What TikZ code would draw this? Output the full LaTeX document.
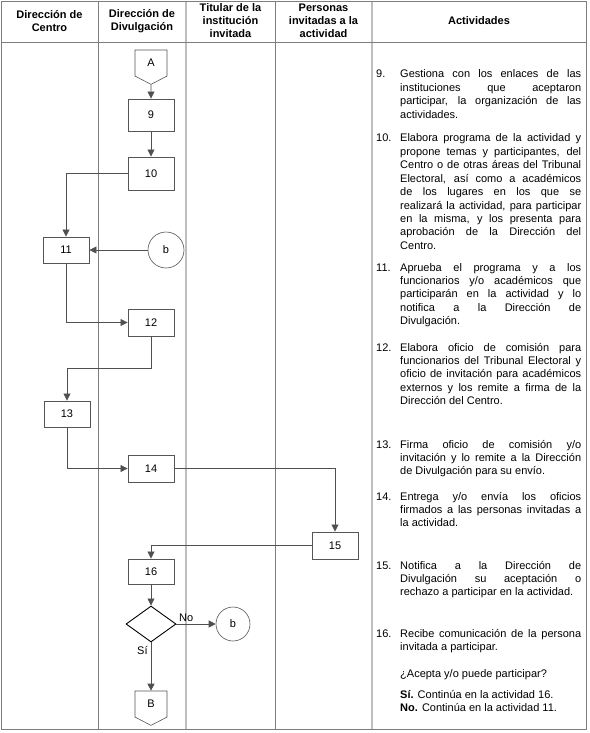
\documentclass[tikz,border=0pt]{standalone}
\usepackage{fontspec}
\setmainfont{Liberation Sans}
\usetikzlibrary{arrows.meta, positioning, shapes.geometric, shapes.symbols}
\definecolor{gridgray}{RGB}{125,125,125}
\definecolor{softgray}{RGB}{190,190,190}
\definecolor{boxline}{RGB}{85,85,85}
\definecolor{flowline}{RGB}{80,80,80}
\hyphenpenalty=10000
\exhyphenpenalty=10000
\tikzset{
  basetext/.style={font=\fontsize{11}{13.4}\selectfont},
  headnode/.style={align=center,inner sep=0pt,font=\fontsize{11}{13}\selectfont\bfseries},
  stepnode/.style={rectangle,draw=boxline,line width=0.9pt,minimum width=46pt,minimum height=27pt,inner sep=0pt,basetext},
  connnode/.style={circle,draw=boxline,line width=0.6pt,minimum size=36pt,inner sep=0pt,basetext},
  offnode/.style={signal,signal to=south,signal pointer angle=125,draw=boxline,line width=0.6pt,minimum width=32pt,minimum height=28pt,inner sep=0pt,basetext},
  decnode/.style={diamond,draw=black,line width=0.9pt,minimum width=50pt,minimum height=36pt,inner sep=0pt},
  actnode/.style={basetext,anchor=base west,text width=181pt,align=justify,inner sep=0pt},
  numnode/.style={basetext,anchor=base west,inner sep=0pt},
  gridline/.style={draw=gridgray,line width=0.9pt},
  softline/.style={draw=softgray,line width=1.6pt},
  arr/.style={-{Triangle[length=7pt,width=7pt]},draw=flowline,line width=0.8pt}
}

\begin{document}
\begin{tikzpicture}[x=1pt,y=-1pt]
  \useasboundingbox (0,0) rectangle (589,733);
  \fill[white] (0,0) rectangle (589,733);

  \foreach \xc in {186,372} \draw[softline] (\xc,1) -- (\xc,729);
  \foreach \xc in {98,275} \draw[gridline] (\xc,1) -- (\xc,729);
  \draw[gridline] (1,1) rectangle (586,729);
  \draw[gridline] (1,42) -- (586,42);

  \node[headnode] (hcentro) at (49.5,21) {Dirección de\\Centro};
  \node[headnode] (hdivul) at (142,21) {Dirección de\\Divulgación};
  \node[headnode] (htitular) at (230.5,21) {Titular de la\\institución\\invitada};
  \node[headnode] (hpersonas) at (323.5,21) {Personas\\invitadas a la\\actividad};
  \node[headnode] (hact) at (479,21) {Actividades};

  \node[offnode] (A) at (151,63) {A};
  \node[stepnode,minimum height=32pt] (s9) at (151,115) {9};
  \node[stepnode,minimum height=33pt] (s10) at (151,173.5) {10};
  \node[stepnode,minimum height=26pt] (s11) at (66,250) {11};
  \node[connnode] (b1) at (166,250) {b};
  \node[stepnode] (s12) at (151,322.5) {12};
  \node[stepnode,minimum height=26pt] (s13) at (67,414) {13};
  \node[stepnode] (s14) at (151,468.5) {14};
  \node[stepnode] (s15) at (335,545.5) {15};
  \node[stepnode,minimum height=25pt] (s16) at (151,571.5) {16};
  \node[decnode] (q16) at (151,624) {};
  \node[connnode,minimum size=34pt] (b2) at (233,624) {b};
  \node[offnode] (B) at (151,704) {B};

  \draw[arr] (A) -- (s9);
  \draw[arr] (s9) -- (s10);
  \draw[arr] (s10.west) -| (s11.north);
  \draw[arr] (b1) -- (s11);
  \draw[arr] (s11.south) |- (s12.west);
  \draw[arr] (s12.south) -- ++(0,32) -| (s13.north);
  \draw[arr] (s13.south) |- (s14.west);
  \draw[arr] (s14.east) -| (s15.north);
  \draw[arr] (s15.west) -| (s16.north);
  \draw[arr] (s16) -- (q16);
  \draw[arr] (q16.east) -- (b2.west) node[pos=0.25,above,basetext,inner sep=2pt] {No};
  \draw[arr] (q16.south) -- (B.north) node[pos=0.17,left,basetext,inner sep=3pt] {Sí};

  \node[numnode] (n9) at (376,78) {9.};
  \node[actnode] (t9) at (400,78) {Gestiona con los enlaces de las\linebreak instituciones que aceptaron\linebreak participar, la organización de las\linebreak actividades.};
  \node[numnode] (n10) at (376,142) {10.};
  \node[actnode] (t10) at (400,142) {Elabora programa de la actividad y\linebreak propone temas y participantes, del\linebreak Centro o de otras áreas del Tribunal\linebreak Electoral, así como a académicos\linebreak de los lugares en los que se\linebreak realizará la actividad, para participar\linebreak en la misma, y los presenta para\linebreak aprobación de la Dirección del\linebreak Centro.};
  \node[numnode] (n11) at (376,271) {11.};
  \node[actnode] (t11) at (400,271) {Aprueba el programa y a los\linebreak funcionarios y/o académicos que\linebreak participarán en la actividad y lo\linebreak notifica a la Dirección de\linebreak Divulgación.};
  \node[numnode] (n12) at (376,351) {12.};
  \node[actnode] (t12) at (400,351) {Elabora oficio de comisión para\linebreak funcionarios del Tribunal Electoral y\linebreak oficio de invitación para académicos\linebreak externos y los remite a firma de la\linebreak Dirección del Centro.};
  \node[numnode] (n13) at (376,448) {13.};
  \node[actnode] (t13) at (400,448) {Firma oficio de comisión y/o\linebreak invitación y lo remite a la Dirección\linebreak de Divulgación para su envío.};
  \node[numnode] (n14) at (376,500) {14.};
  \node[actnode] (t14) at (400,500) {Entrega y/o envía los oficios\linebreak firmados a las personas invitadas a\linebreak la actividad.};
  \node[numnode] (n15) at (376,569) {15.};
  \node[actnode] (t15) at (400,569) {Notifica a la Dirección de\linebreak Divulgación su aceptación o\linebreak rechazo a participar en la actividad.};
  \node[numnode] (n16) at (376,637) {16.};
  \node[actnode] (t16) at (400,637) {Recibe comunicación de la persona\linebreak invitada a participar.};
  \node[actnode] (t16q) at (400,677) {¿Acepta y/o puede participar?};
  \node[actnode] (t16r) at (400,698) {\textbf{Sí.} Continúa en la actividad 16.\\\textbf{No.} Continúa en la actividad 11.};
\end{tikzpicture}
\end{document}
